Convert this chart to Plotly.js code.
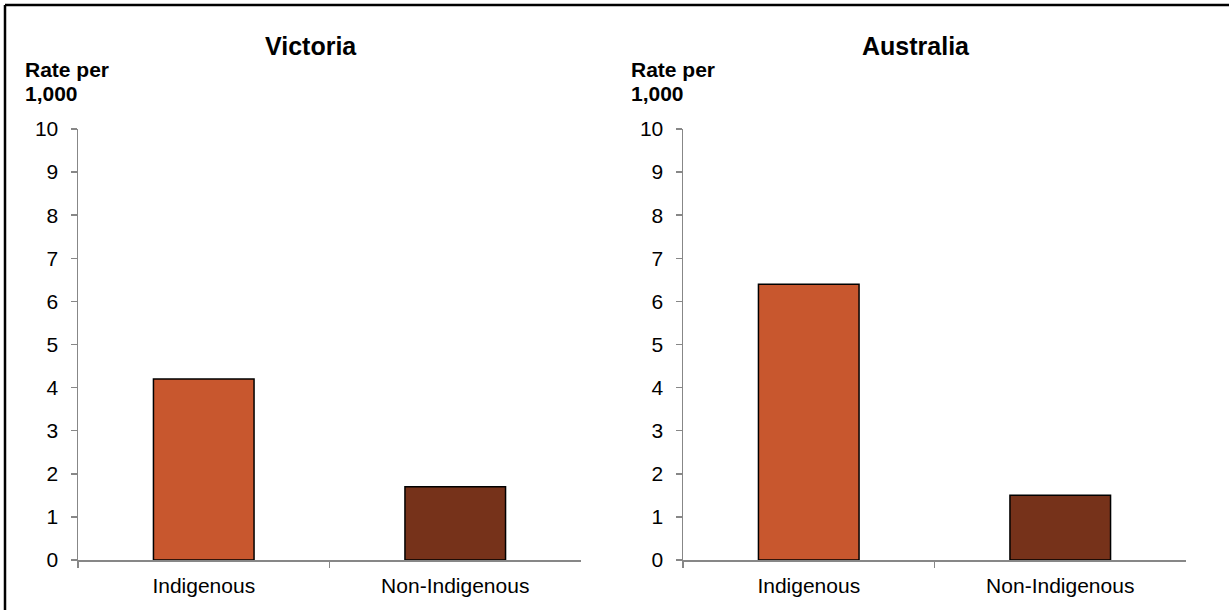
<!DOCTYPE html>
<html>
<head>
<meta charset="utf-8">
<script src="https://cdn.plot.ly/plotly-3.0.1.min.js"></script>
<style>html,body{margin:0;padding:0;background:#fff;}#chart{width:1229px;height:610px;}</style>
</head>
<body>
<div id="chart"></div>
<script>
// ---- data ----
const categories = ["Indigenous", "Non-Indigenous"];
const victoriaRates = [4.2, 1.7];
const australiaRates = [6.4, 1.5];
const panelTitles = ["Victoria", "Australia"];
const yTickValues = [0, 1, 2, 3, 4, 5, 6, 7, 8, 9, 10];
const yAxisTitleLines = ["Rate per", "1,000"];
const barColors = ["#C8572E", "#76321A"];

// ---- layout helpers ----
const W = 1229, H = 610;
const px = v => v / W;
const py = v => 1 - v / H;
const FONT = "Liberation Sans, Arial, sans-serif";

const traces = [
  {type: "bar", x: categories, y: victoriaRates, xaxis: "x", yaxis: "y",
   width: 0.4, marker: {color: barColors, line: {color: "#000", width: 1.5}},
   hoverinfo: "x+y", showlegend: false},
  {type: "bar", x: categories, y: australiaRates, xaxis: "x2", yaxis: "y2",
   width: 0.4, marker: {color: barColors, line: {color: "#000", width: 1.5}},
   hoverinfo: "x+y", showlegend: false}
];

const yDomain = [1 - 560 / H, 1 - 129 / H];
const xAxisBase = {
  showgrid: false, zeroline: false, showline: true, linecolor: "#878787", linewidth: 1.5,
  ticks: "outside", tickson: "boundaries", ticklen: 6, tickcolor: "#878787", tickwidth: 1.5,
  ticklabelstandoff: 6,
  tickfont: {family: FONT, size: 21, color: "#000"}, fixedrange: true
};
const yAxisBase = {
  range: [0, 10], tickvals: yTickValues, showgrid: false, zeroline: false,
  showline: true, linecolor: "#878787", linewidth: 1.5,
  ticks: "outside", ticklen: 6, tickcolor: "#878787", tickwidth: 1.5,
  ticklabelstandoff: 8,
  tickfont: {family: FONT, size: 21, color: "#000"}, fixedrange: true, domain: yDomain
};

const panels = [
  {titleX: 311, rateX: 23},
  {titleX: 916, rateX: 629}
];
const annotations = [];
panels.forEach((p, i) => {
  annotations.push({xref: "paper", yref: "paper", x: px(p.titleX), y: py(46),
    xanchor: "center", yanchor: "middle", showarrow: false, text: "<b>" + panelTitles[i] + "</b>",
    font: {family: FONT, size: 25, color: "#000"}});
  yAxisTitleLines.forEach((line, j) => {
    annotations.push({xref: "paper", yref: "paper", x: px(p.rateX), y: py(69 + 24 * j),
      xanchor: "left", yanchor: "middle", showarrow: false, text: "<b>" + line + "</b>",
      font: {family: FONT, size: 21, color: "#000"}});
  });
});

const layout = {
  width: W, height: H, margin: {l: 0, r: 0, t: 0, b: 0},
  paper_bgcolor: "#fff", plot_bgcolor: "rgba(0,0,0,0)",
  font: {family: FONT, color: "#000"},
  xaxis: Object.assign({}, xAxisBase, {domain: [px(78), px(581)], anchor: "y"}),
  yaxis: Object.assign({}, yAxisBase, {anchor: "x"}),
  xaxis2: Object.assign({}, xAxisBase, {domain: [px(683), px(1186)], anchor: "y2"}),
  yaxis2: Object.assign({}, yAxisBase, {anchor: "x2"}),
  annotations: annotations,
  shapes: [
    {type: "line", xref: "paper", yref: "paper", x0: px(5), x1: px(5), y0: 0, y1: py(5),
     line: {color: "#000", width: 2.5}},
    {type: "line", xref: "paper", yref: "paper", x0: px(5), x1: 1, y0: py(5), y1: py(5),
     line: {color: "#000", width: 2.5}}
  ]
};

Plotly.newPlot("chart", traces, layout, {displayModeBar: false, staticPlot: true});
</script>
</body>
</html>
